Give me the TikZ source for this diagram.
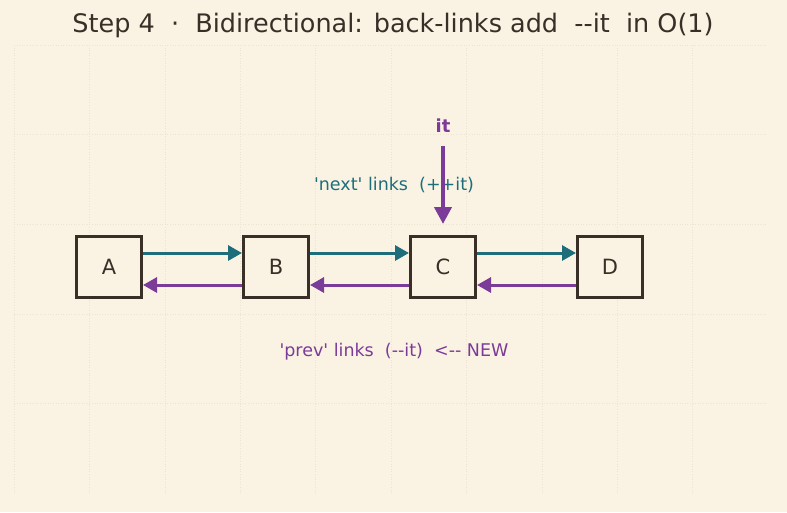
\documentclass[tikz,border=0pt]{standalone}
\usepackage{fontspec}
\setmainfont{DejaVu Sans}[Ligatures=TeXOff]
\usetikzlibrary{positioning,arrows.meta}
\definecolor{paper}{HTML}{FAF3E4}
\definecolor{ink}{HTML}{3A2F27}
\definecolor{nextc}{HTML}{1D6E7A}
\definecolor{prevc}{HTML}{7B3B98}
\definecolor{gridc}{HTML}{ECE4D2}
\tikzset{
  cell/.style={draw=ink, line width=3pt, fill=paper, minimum width=65pt,
    minimum height=61pt, inner sep=0pt, text=ink,
    font=\fontsize{21}{25}\selectfont},
  nextlink/.style={nextc, line width=3pt, -{Triangle[length=14pt,width=15pt]}},
  prevlink/.style={prevc, line width=3pt, -{Triangle[length=14pt,width=15pt]}},
  itarrow/.style={prevc, line width=4pt, -{Triangle[length=17pt,width=17pt]}},
  gridline/.style={gridc, dotted, line width=0.6pt}
}
\begin{document}
\begin{tikzpicture}[x=1pt,y=-1pt]
    \useasboundingbox (0,0) rectangle (787,512);
    \fill[paper] (0,0) rectangle (787,512);

    % faint grid
    \foreach \x in {14,89.4,...,700}
    \draw[gridline] (\x,45) -- (\x,493);
    \foreach \y in {45,134.6,...,410}
    \draw[gridline] (14,\y) -- (768,\y);

    \node[text=ink, font=\fontsize{25.5}{30}\selectfont] (title) at (393,25)
        {Step 4\ \ ·\ \ Bidirectional: back-links add\ \ --it\ \ in O(1)};

    % the list
    \node[cell] (A) at (109,267) {A};
    \node[cell] (B) at (276,267) {B};
    \node[cell] (C) at (443,267) {C};
    \node[cell] (D) at (610,267) {D};

    \draw[nextlink] ([yshift=14pt]A.east) -- ([yshift=14pt]B.west);
    \draw[nextlink] ([yshift=14pt]B.east) -- ([yshift=14pt]C.west);
    \draw[nextlink] ([yshift=14pt]C.east) -- ([yshift=14pt]D.west);
    \draw[prevlink] ([yshift=-18pt]B.west) -- ([yshift=-18pt]A.east);
    \draw[prevlink] ([yshift=-18pt]C.west) -- ([yshift=-18pt]B.east);
    \draw[prevlink] ([yshift=-18pt]D.west) -- ([yshift=-18pt]C.east);

    \node[text=nextc, font=\fontsize{17.5}{21}\selectfont] (nextlbl) at (394,185)
        {'next' links\ \ (++it)};
    \node[text=prevc, font=\fontsize{17.5}{21}\selectfont] (prevlbl) at (394,352)
        {'prev' links\ \ (--it)\ \ <-- NEW};

    % iterator
    \node[text=prevc, font=\bfseries\fontsize{18}{22}\selectfont] (it) at (443,126) {it};
    \draw[itarrow] ([yshift=-10pt]it.south) -- ([yshift=11pt]C.north);
\end{tikzpicture}
\end{document}
